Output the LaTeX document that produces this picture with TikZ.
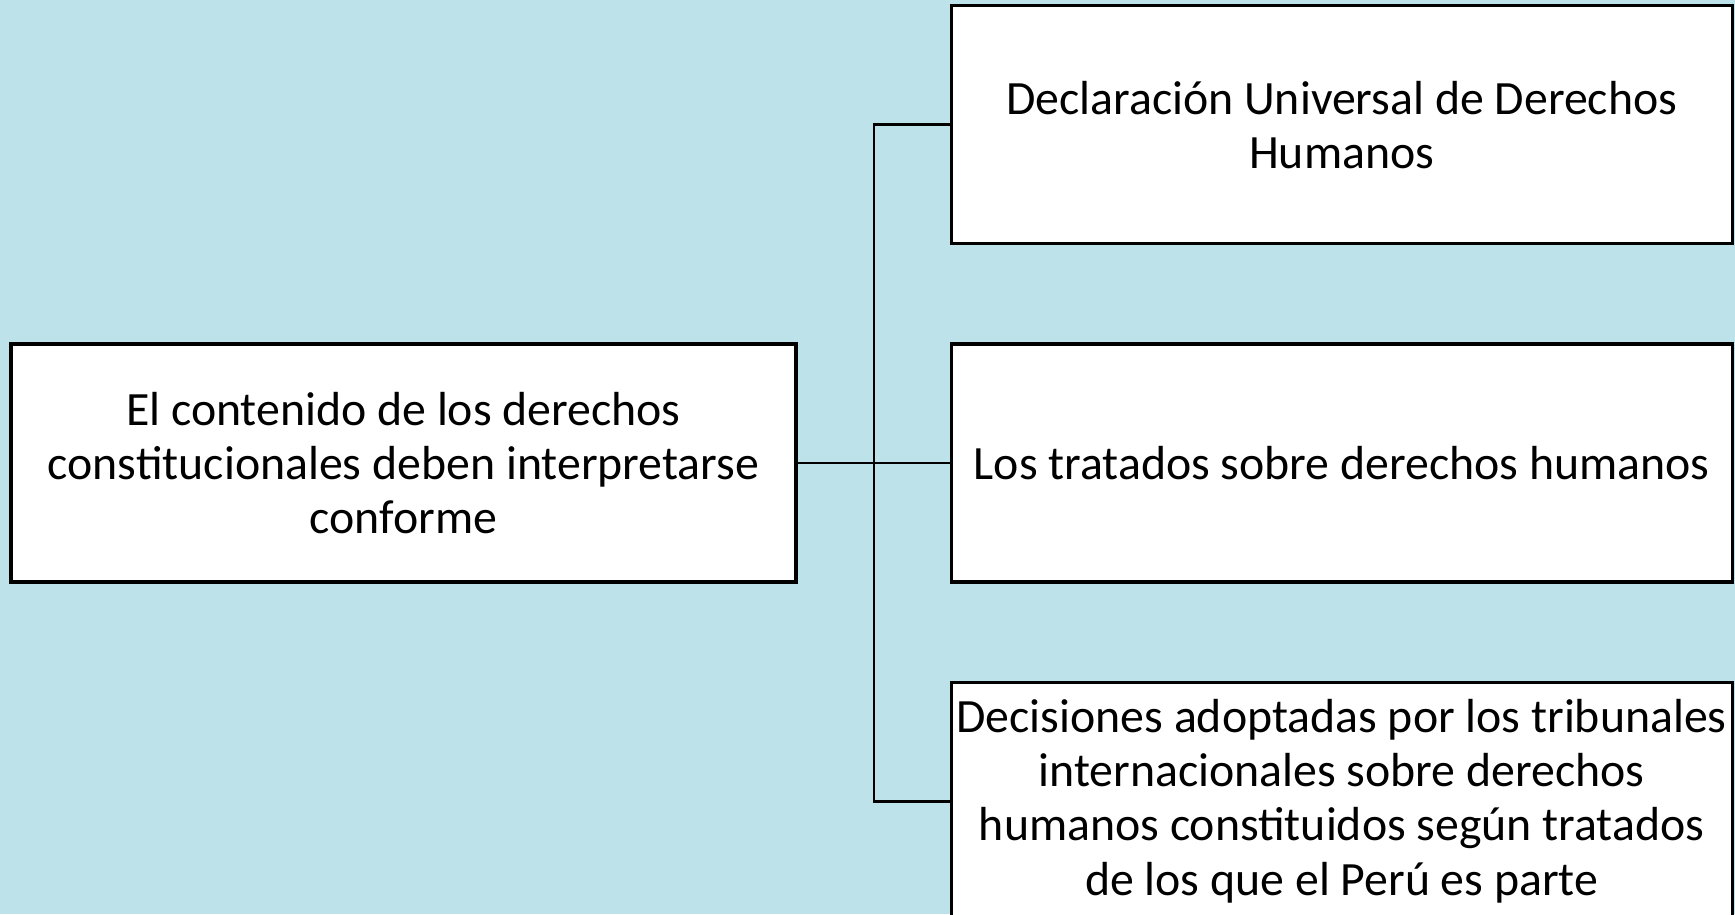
\documentclass[tikz,border=0pt]{standalone}
\usepackage{fontspec}
\setmainfont{Carlito}
\usetikzlibrary{positioning}
\definecolor{agua}{RGB}{190,226,234}

\begin{document}
\begin{tikzpicture}[-,line width=0.8pt,node distance=1cm,
    caja/.style={draw,line width=0.9pt,fill=white,minimum width=7.81cm,minimum height=2.38cm,inner sep=0pt,align=center,font=\fontsize{13.6}{15.4}\selectfont}]
                \fill[agua] (0,0) rectangle (17.35,-9.14);
                \useasboundingbox (0,0) rectangle (17.35,-9.14);
                \clip (0,0) rectangle (17.35,-9.14);

                \node[caja,minimum width=7.85cm] (contenido) at (4.035,-4.63) {El contenido de los derechos\\constitucionales deben interpretarse\\conforme};
                \node[caja] (tratados) [right=1.52cm of contenido] {Los tratados sobre derechos humanos};
                \node[caja] (declaracion) [above=0.97cm of tratados] {Declaración Universal de Derechos\\Humanos};
                \node[caja] (decisiones) [below=0.97cm of tratados] {Decisiones adoptadas por los tribunales\\internacionales sobre derechos\\humanos constituidos según tratados\\de los que el Perú es parte};

                \coordinate (tronco) at (8.74,0);

                \draw (contenido.east) -- (tratados.west);
                \draw (declaracion.west) -- (declaracion.west -| tronco) -- (decisiones.west -| tronco) -- (decisiones.west);
            \end{tikzpicture}
\end{document}
